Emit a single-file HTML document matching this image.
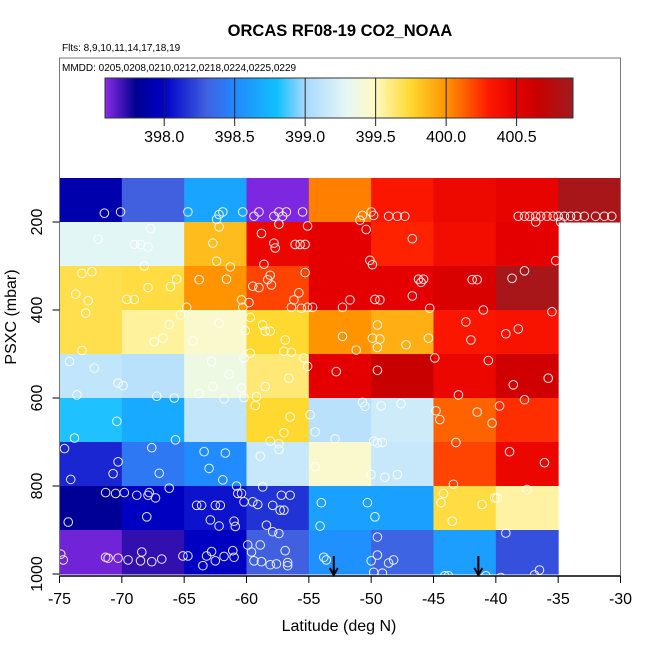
<!DOCTYPE html>
<html><head><meta charset="utf-8"><style>
body{margin:0;background:#fff;width:650px;height:650px;overflow:hidden}
svg{display:block;font-family:"Liberation Sans",sans-serif}
</style></head><body>
<svg id="chart" width="650" height="650" viewBox="0 0 650 650"></svg>
<script>
const latEdges=[-75,-70,-65,-60,-55,-50,-45,-40,-35,-30];
const presEdges=[100,200,300,400,500,600,700,800,900,1000];
const cellValues=[
[397.9,398.3,398.65,397.6,400.05,400.33,400.43,400.48,400.85],
[399.28,399.28,399.85,400.45,400.5,400.28,400.4,400.5,null],
[399.7,399.72,400.0,400.2,400.5,400.5,400.56,400.85,null],
[399.7,399.56,399.45,399.75,400.0,399.9,400.33,400.35,null],
[399.12,399.08,399.36,399.63,400.5,400.65,400.45,400.6,null],
[398.82,398.68,399.12,399.75,399.08,399.18,400.12,400.25,null],
[398.12,398.42,398.52,399.15,399.45,399.15,400.2,400.45,null],
[397.82,397.97,398.06,398.16,398.63,398.63,399.72,399.55,null],
[397.62,397.72,397.98,398.3,398.55,398.32,398.62,398.25,null]];
const cbTicks=[398.0,398.5,399.0,399.5,400.0,400.5];
const latTicks=[-75,-70,-65,-60,-55,-50,-45,-40,-35,-30];
const presTicks=[200,400,600,800,1000];
const ptLat=[-71.4,-70.1,-64.7,-62.4,-62.2,-61.9,-62.2,-60.3,-59.4,-59.0,-57.8,-57.4,-57.1,-56.8,-57.4,-55.5,-55.1,-50.9,-50.7,-50.0,-49.8,-50.4,-48.6,-47.9,-47.3,
-38.2,-37.7,-37.3,-36.8,-36.4,-35.9,-35.4,-35.0,-34.5,-34.0,-33.5,-32.9,-32.0,-31.3,-30.7,-36.8,-34.8,
-71.9,-69.0,-68.5,-67.9,-67.7,-68.2,-62.7,-62.4,-61.3,-58.8,-57.8,-57.7,-58.6,-56.1,-55.7,-55.3,-50.1,-49.9,-46.7,-35.2,-37.7,-38.7,
-73.2,-72.4,-73.7,-72.7,-72.9,-69.6,-69.0,-67.9,-66.1,-65.6,-65.3,-63.8,-61.6,-60.4,-60.3,-59.8,-64.8,-59.5,-59.0,-58.3,-58.0,-58.1,-56.2,-55.8,-56.4,-55.6,-55.1,-54.7,-55.3,
-51.7,-52.3,-49.7,-49.3,-46.7,-46.2,-46.0,-45.8,-45.3,-41.9,-41.5,-41.0,-35.5,
-73.2,-74.2,-66.2,-66.7,-67.4,-64.3,-62.2,-60.1,-59.7,-58.7,-58.5,-58.1,-56.9,-57.0,-56.4,-55.4,-59.7,-60.2,-52.3,-51.2,-49.9,-49.3,-49.5,-49.5,-47.2,-45.4,-42.4,-42.0,-39.2,-38.2,-44.9,
-72.2,-73.6,-70.3,-69.9,-67.2,-65.8,-62.8,-61.4,-62.7,-63.8,-61.8,-60.4,-60.2,-58.5,-59.2,-59.3,-56.6,-55.1,-52.8,-49.5,-50.7,-50.5,-49.2,-47.6,-43.0,-40.6,-38.6,-37.7,-35.8,-39.7,
-70.4,-73.8,-74.6,-65.7,-67.6,-54.9,-54.5,-56.5,-57.0,-58.1,-57.4,-57.4,-52.9,-49.8,-49.5,-49.1,-44.8,-44.5,-41.5,-40.3,-43.2,
-70.3,-70.7,-74.1,-67.0,-66.2,-63.4,-61.7,-63.0,-61.9,-60.8,-58.9,-58.7,-54.5,-50.0,-48.9,-47.9,-38.9,-36.1,-43.4,-37.5,
-71.3,-70.5,-69.8,-68.8,-67.9,-67.3,-67.8,-74.3,-68.0,-64.0,-63.6,-62.5,-62.1,-62.9,-62.2,-61.0,-60.9,-60.7,-60.4,-60.2,-59.5,-59.1,-57.9,-57.3,-57.0,-57.2,-56.5,-58.4,-57.9,-57.4,
-54.0,-54.1,-50.3,-49.7,-49.5,-44.2,-44.4,-43.5,-41.1,-40.1,-39.9,-39.2,
-74.9,-74.7,-71.3,-71.1,-70.3,-69.5,-68.4,-68.5,-67.6,-66.8,-65.1,-64.7,-63.5,-63.2,-62.8,-62.5,-61.8,-61.1,-61.0,-59.9,-59.6,-58.9,-59.4,-58.8,-58.1,-57.6,-56.9,-56.7,-56.7,
-53.8,-53.6,-50.0,-49.5,-48.6,-48.2,-49.8,-49.1,-44.1,-43.8,-40.8,-39.6,-36.9,-36.5];
const ptPres=[180,177,177,194,183,177,211,177,187,177,187,177,187,177,205,177,209,196,185,177,185,217,187,187,187,
187,187,187,187,187,187,187,187,187,187,187,187,187,187,187,200,200,
239,251,251,257,215,300,248,289,302,226,248,259,296,251,251,251,287,297,238,288,311,328,
317,313,364,379,407,376,376,349,347,330,411,331,330,377,394,383,394,346,349,331,343,321,377,361,394,396,394,394,315,
377,394,376,377,368,330,337,330,396,331,331,400,404,
492,517,433,464,472,470,430,447,417,434,448,448,468,494,496,509,498,509,460,491,464,466,485,434,479,464,427,468,454,443,509,
532,593,566,572,596,600,517,546,574,590,602,577,599,574,597,617,555,528,540,537,610,619,618,613,593,515,570,604,555,618,
653,691,715,695,713,638,677,643,679,698,704,717,693,698,702,701,629,649,632,657,701,
745,772,785,771,805,722,725,760,786,800,732,802,756,774,780,774,722,747,796,808,
815,817,815,821,821,827,815,882,870,844,844,844,844,877,891,880,892,817,817,836,836,842,844,855,855,821,821,889,904,908,
838,891,838,870,916,817,838,880,842,827,827,907,
955,968,962,964,964,968,950,970,972,966,959,959,981,959,949,970,960,947,962,934,950,934,970,972,979,977,947,974,981,
962,968,970,957,975,968,996,998,1004,1004,1004,1008,1002,991];
const arrowLat=[-53.0,-41.4];

const X0=59.5,X1=620.5,Y200=222,Y1000=574;
const xs=l=>X0+(l+75)*(X1-X0)/45;
const ys=p=>Y200+(p-200)*(Y1000-Y200)/800;
const CB0=105,CB1=573,V0=397.58,V1=400.9;
const cbx=v=>CB0+(v-V0)*(CB1-CB0)/(V1-V0);
const stops=[[397.58,'#8a2be8'],[397.8,'#000090'],[398.0,'#0000c8'],[398.3,'#4060e0'],[398.5,'#2288ff'],[398.8,'#10c0ff'],[399.0,'#a8d8ff'],[399.3,'#e6f8f4'],[399.5,'#fffac0'],[399.75,'#ffd830'],[400.0,'#ff9400'],[400.3,'#ff1a00'],[400.5,'#e40000'],[400.65,'#c80000'],[400.9,'#a01c20']];
function hx(c){return [1,3,5].map(i=>parseInt(c.substr(i,2),16));}
function cmap(v){
 if(v<=stops[0][0])return stops[0][1];
 for(let i=1;i<stops.length;i++){if(v<=stops[i][0]){const a=stops[i-1],b=stops[i];const t=(v-a[0])/(b[0]-a[0]);const ca=hx(a[1]),cb=hx(b[1]);return 'rgb('+ca.map((c,k)=>Math.round(c+(cb[k]-c)*t)).join(',')+')';}}
 return stops[stops.length-1][1];
}
const svg=document.getElementById('chart');const NS='http://www.w3.org/2000/svg';
function el(t,a,p){const e=document.createElementNS(NS,t);for(const k in a)e.setAttribute(k,a[k]);(p||svg).appendChild(e);return e;}
function tx(s,a,p){const e=el('text',a,p);e.textContent=s;return e;}

const gCells=el('g',{});


cellValues.forEach((row,r)=>row.forEach((v,c)=>{if(v===null)return;
 const x=xs(latEdges[c]),x2=xs(latEdges[c+1]),y=ys(presEdges[r]),y2=ys(presEdges[r+1]);
 const e=el('rect',{x:x,y:y,width:x2-x+0.5,height:y2-y+0.5,fill:cmap(v)},gCells);
 
 
}));
const gPts=el('g',{fill:'none',stroke:'#fff','stroke-width':1,opacity:0.9});


ptLat.forEach((l,i)=>{const e=el('circle',{cx:xs(l),cy:ys(ptPres[i]),r:4.3},gPts);
 
 });
arrowLat.forEach(l=>{const x=xs(l);const g=el('g',{stroke:'#000','stroke-width':2,fill:'none'});
 
 
 el('line',{x1:x,y1:556,x2:x,y2:575},g);el('polyline',{points:(x-4)+',568 '+x+',575 '+(x+4)+',568'},g);});

// colorbar panel
const pan=el('rect',{x:X0,y:58,width:X1-X0,height:120,fill:'#fff'});

const gcb=el('g',{});
for(let x=CB0;x<CB1;x+=2){const v=V0+(x+1-CB0)*(V1-V0)/(CB1-CB0);el('rect',{x:x,y:78,width:2.3,height:40,fill:cmap(v)},gcb);}
el('rect',{x:CB0,y:78,width:CB1-CB0,height:40,fill:'none',stroke:'#333','stroke-width':1},gcb);
cbTicks.forEach(v=>{const x=cbx(v);el('line',{x1:x,y1:78,x2:x,y2:126,stroke:'#222','stroke-width':1},gcb);
 const t=tx(v.toFixed(1),{x:x,y:142,'font-size':16,'text-anchor':'middle',fill:'#000'},gcb);
 });

// box & axes
const box=el('rect',{x:X0,y:58,width:X1-X0,height:518,fill:'none',stroke:'#777','stroke-width':1});

el('line',{x1:X0,y1:576,x2:X1,y2:576,stroke:'#000','stroke-width':1.5});
el('line',{x1:X0,y1:58,x2:X0,y2:576,stroke:'#777','stroke-width':1});
const gx=el('g',{});
latTicks.forEach(l=>{const x=xs(l);el('line',{x1:x,y1:576,x2:x,y2:583,stroke:'#000'},gx);
 const t=tx(String(l),{x:x,y:604,'font-size':16,'text-anchor':'middle'},gx);
 });
const gy=el('g',{});
presTicks.forEach(p=>{const y=ys(p);el('line',{x1:X0,y1:y,x2:X0-7,y2:y,stroke:'#000'},gy);
 const t=tx(String(p),{x:0,y:0,'font-size':16,'text-anchor':'middle',transform:'translate(42,'+y+') rotate(-90)'},gy);
 });
</script>
<svg style="position:absolute;left:0;top:0" width="650" height="650">
<text x="340" y="36" font-size="16.5" font-weight="bold" text-anchor="middle" font-family="Liberation Sans,sans-serif">ORCAS RF08-19 CO2_NOAA</text>
<text x="62" y="51" font-size="10" font-family="Liberation Sans,sans-serif">Flts: 8,9,10,11,14,17,18,19</text>
<text x="62" y="71" font-size="10" font-family="Liberation Sans,sans-serif">MMDD: 0205,0208,0210,0212,0218,0224,0225,0229</text>
<text x="339" y="631" font-size="16" text-anchor="middle" font-family="Liberation Sans,sans-serif">Latitude (deg N)</text>
<text transform="translate(16,317) rotate(-90)" font-size="16" text-anchor="middle" font-family="Liberation Sans,sans-serif">PSXC (mbar)</text>
</svg>
</body></html>
